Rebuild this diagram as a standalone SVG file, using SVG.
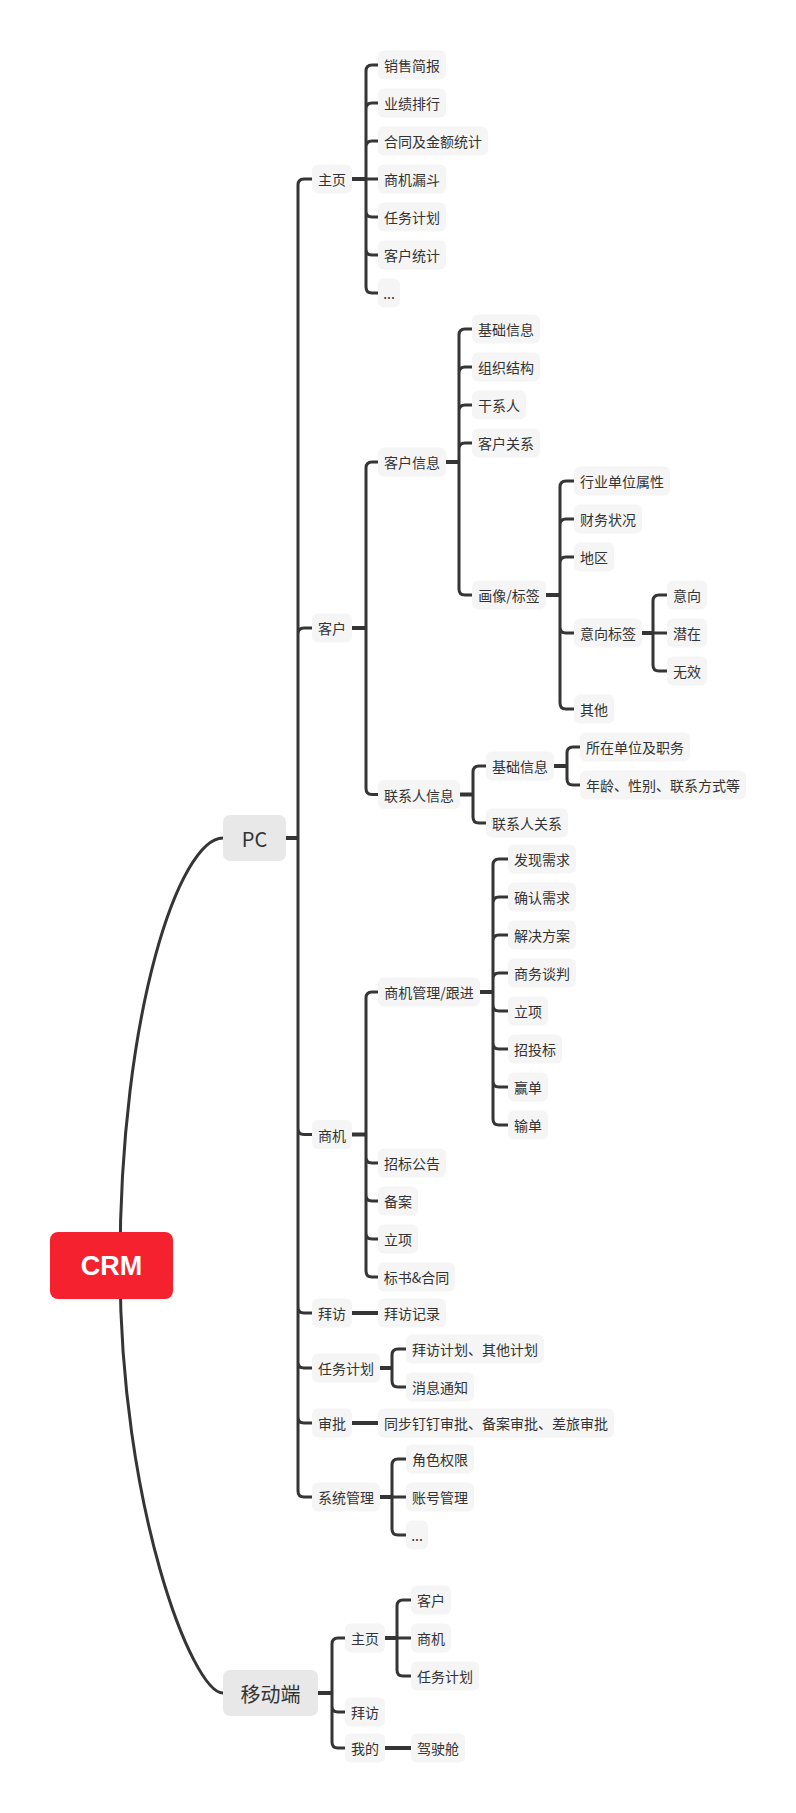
<svg xmlns="http://www.w3.org/2000/svg" width="796" height="1813" viewBox="0 0 796 1813">
<style>
.c{fill:none;stroke:#353535;stroke-width:3;stroke-linejoin:round}
.s{fill:none;stroke:#353535;stroke-width:4}
.n rect{fill:#f5f5f5}
.l1 rect{fill:#e8e8e8}
text{font-family:"Noto Sans CJK SC","Noto Sans",sans-serif;font-size:14px;fill:#333;text-anchor:middle;dominant-baseline:central}
.l1 text{font-size:20px}
#crm rect{fill:#f5212f}
#crm text{font-family:"Liberation Sans",Arial,sans-serif;font-weight:bold;font-size:27px;fill:#fff}
</style>
<rect width="796" height="1813" fill="#fff"/>
<g id="connectors">
<path class="c" d="M120 1265 C120 1010 180 838 223 838"/>
<path class="c" d="M120 1265 C120 1505 192 1693 223 1693"/>
<path class="s" d="M286 838 H298 M352 179 H366 M352 628 H366 M446 462 H459 M546 595 H560 M642 633 H653 M460 794.5 H473 M554 766 H567 M352 1134.5 H366 M480 992 H493 M352 1313 H378 M380 1368 H392 M352 1423 H378 M380 1497 H392 M318 1693 H332 M385 1638 H397 M385 1748 H411"/>
<path class="c" d="M298 838 V185 Q298 179 304 179 H312 M298 838 V634 Q298 628 304 628 H312 M298 838 V1128.5 Q298 1134.5 304 1134.5 H312 M298 838 V1307 Q298 1313 304 1313 H312 M298 838 V1362 Q298 1368 304 1368 H312 M298 838 V1417 Q298 1423 304 1423 H312 M298 838 V1491 Q298 1497 304 1497 H312"/>
<path class="c" d="M366 179 V71 Q366 65 372 65 H378 M366 179 V109 Q366 103 372 103 H378 M366 179 V147 Q366 141 372 141 H378 M366 179 H378 M366 179 V211 Q366 217 372 217 H378 M366 179 V249 Q366 255 372 255 H378 M366 179 V287 Q366 293 372 293 H378"/>
<path class="c" d="M366 628 V468 Q366 462 372 462 H378 M366 628 V788.5 Q366 794.5 372 794.5 H378"/>
<path class="c" d="M459 462 V335 Q459 329 465 329 H472 M459 462 V373 Q459 367 465 367 H472 M459 462 V411 Q459 405 465 405 H472 M459 462 V449 Q459 443 465 443 H472 M459 462 V589 Q459 595 465 595 H472"/>
<path class="c" d="M560 595 V487 Q560 481 566 481 H574 M560 595 V525 Q560 519 566 519 H574 M560 595 V563 Q560 557 566 557 H574 M560 595 V627 Q560 633 566 633 H574 M560 595 V703 Q560 709 566 709 H574"/>
<path class="c" d="M653 633 V601 Q653 595 659 595 H667 M653 633 H667 M653 633 V665 Q653 671 659 671 H667"/>
<path class="c" d="M473 794.5 V772 Q473 766 479 766 H486 M473 794.5 V817 Q473 823 479 823 H486"/>
<path class="c" d="M567 766 V753 Q567 747 573 747 H580 M567 766 V779 Q567 785 573 785 H580"/>
<path class="c" d="M366 1134.5 V998 Q366 992 372 992 H378 M366 1134.5 V1157 Q366 1163 372 1163 H378 M366 1134.5 V1195 Q366 1201 372 1201 H378 M366 1134.5 V1233 Q366 1239 372 1239 H378 M366 1134.5 V1271 Q366 1277 372 1277 H378"/>
<path class="c" d="M493 992 V865 Q493 859 499 859 H508 M493 992 V903 Q493 897 499 897 H508 M493 992 V941 Q493 935 499 935 H508 M493 992 V979 Q493 973 499 973 H508 M493 992 V1005 Q493 1011 499 1011 H508 M493 992 V1043 Q493 1049 499 1049 H508 M493 992 V1081 Q493 1087 499 1087 H508 M493 992 V1119 Q493 1125 499 1125 H508"/>
<path class="c" d="M392 1368 V1355 Q392 1349 398 1349 H406 M392 1368 V1381 Q392 1387 398 1387 H406"/>
<path class="c" d="M392 1497 V1465 Q392 1459 398 1459 H406 M392 1497 H406 M392 1497 V1529 Q392 1535 398 1535 H406"/>
<path class="c" d="M332 1693 V1644 Q332 1638 338 1638 H345 M332 1693 V1706 Q332 1712 338 1712 H345 M332 1693 V1742 Q332 1748 338 1748 H345"/>
<path class="c" d="M397 1638 V1606 Q397 1600 403 1600 H411 M397 1638 H411 M397 1638 V1670 Q397 1676 403 1676 H411"/>
</g>
<g id="crm"><rect x="50" y="1232" width="123" height="67" rx="8"/><text x="111.5" y="1266">CRM</text></g>
<g id="pc" class="l1"><rect x="223" y="815" width="63" height="46" rx="7"/><text x="254.5" y="838">PC</text></g>
<g id="mobile" class="l1"><rect x="223" y="1670" width="95" height="46" rx="7"/><text x="270.5" y="1693">移动端</text></g>
<g id="pc-home" class="n"><rect x="312" y="164.5" width="40" height="29" rx="6"/><text x="332" y="179">主页</text></g>
<g id="h1" class="n"><rect x="378" y="50.5" width="68" height="29" rx="6"/><text x="412" y="65">销售简报</text></g>
<g id="h2" class="n"><rect x="378" y="88.5" width="68" height="29" rx="6"/><text x="412" y="103">业绩排行</text></g>
<g id="h3" class="n"><rect x="378" y="126.5" width="110" height="29" rx="6"/><text x="433" y="141">合同及金额统计</text></g>
<g id="h4" class="n"><rect x="378" y="164.5" width="68" height="29" rx="6"/><text x="412" y="179">商机漏斗</text></g>
<g id="h5" class="n"><rect x="378" y="202.5" width="68" height="29" rx="6"/><text x="412" y="217">任务计划</text></g>
<g id="h6" class="n"><rect x="378" y="240.5" width="68" height="29" rx="6"/><text x="412" y="255">客户统计</text></g>
<g id="h7" class="n"><rect x="378" y="278.5" width="22" height="29" rx="6"/><text x="389" y="293">...</text></g>
<g id="pc-cust" class="n"><rect x="312" y="613.5" width="40" height="29" rx="6"/><text x="332" y="628">客户</text></g>
<g id="cust-info" class="n"><rect x="378" y="447.5" width="68" height="29" rx="6"/><text x="412" y="462">客户信息</text></g>
<g id="ci1" class="n"><rect x="472" y="314.5" width="68" height="29" rx="6"/><text x="506" y="329">基础信息</text></g>
<g id="ci2" class="n"><rect x="472" y="352.5" width="68" height="29" rx="6"/><text x="506" y="367">组织结构</text></g>
<g id="ci3" class="n"><rect x="472" y="390.5" width="54" height="29" rx="6"/><text x="499" y="405">干系人</text></g>
<g id="ci4" class="n"><rect x="472" y="428.5" width="68" height="29" rx="6"/><text x="506" y="443">客户关系</text></g>
<g id="ci5" class="n"><rect x="472" y="580.5" width="74" height="29" rx="6"/><text x="509" y="595">画像/标签</text></g>
<g id="tag1" class="n"><rect x="574" y="466.5" width="96" height="29" rx="6"/><text x="622" y="481">行业单位属性</text></g>
<g id="tag2" class="n"><rect x="574" y="504.5" width="68" height="29" rx="6"/><text x="608" y="519">财务状况</text></g>
<g id="tag3" class="n"><rect x="574" y="542.5" width="40" height="29" rx="6"/><text x="594" y="557">地区</text></g>
<g id="tag4" class="n"><rect x="574" y="618.5" width="68" height="29" rx="6"/><text x="608" y="633">意向标签</text></g>
<g id="tag5" class="n"><rect x="574" y="694.5" width="40" height="29" rx="6"/><text x="594" y="709">其他</text></g>
<g id="it1" class="n"><rect x="667" y="580.5" width="40" height="29" rx="6"/><text x="687" y="595">意向</text></g>
<g id="it2" class="n"><rect x="667" y="618.5" width="40" height="29" rx="6"/><text x="687" y="633">潜在</text></g>
<g id="it3" class="n"><rect x="667" y="656.5" width="40" height="29" rx="6"/><text x="687" y="671">无效</text></g>
<g id="contact" class="n"><rect x="378" y="780" width="82" height="29" rx="6"/><text x="419" y="794.5">联系人信息</text></g>
<g id="ct1" class="n"><rect x="486" y="751.5" width="68" height="29" rx="6"/><text x="520" y="766">基础信息</text></g>
<g id="ct2" class="n"><rect x="486" y="808.5" width="82" height="29" rx="6"/><text x="527" y="823">联系人关系</text></g>
<g id="ct11" class="n"><rect x="580" y="732.5" width="110" height="29" rx="6"/><text x="635" y="747">所在单位及职务</text></g>
<g id="ct12" class="n"><rect x="580" y="770.5" width="166" height="29" rx="6"/><text x="663" y="785">年龄、性别、联系方式等</text></g>
<g id="pc-opp" class="n"><rect x="312" y="1120" width="40" height="29" rx="6"/><text x="332" y="1134.5">商机</text></g>
<g id="opp-mgmt" class="n"><rect x="378" y="977.5" width="102" height="29" rx="6"/><text x="429" y="992">商机管理/跟进</text></g>
<g id="om1" class="n"><rect x="508" y="844.5" width="68" height="29" rx="6"/><text x="542" y="859">发现需求</text></g>
<g id="om2" class="n"><rect x="508" y="882.5" width="68" height="29" rx="6"/><text x="542" y="897">确认需求</text></g>
<g id="om3" class="n"><rect x="508" y="920.5" width="68" height="29" rx="6"/><text x="542" y="935">解决方案</text></g>
<g id="om4" class="n"><rect x="508" y="958.5" width="68" height="29" rx="6"/><text x="542" y="973">商务谈判</text></g>
<g id="om5" class="n"><rect x="508" y="996.5" width="40" height="29" rx="6"/><text x="528" y="1011">立项</text></g>
<g id="om6" class="n"><rect x="508" y="1034.5" width="54" height="29" rx="6"/><text x="535" y="1049">招投标</text></g>
<g id="om7" class="n"><rect x="508" y="1072.5" width="40" height="29" rx="6"/><text x="528" y="1087">赢单</text></g>
<g id="om8" class="n"><rect x="508" y="1110.5" width="40" height="29" rx="6"/><text x="528" y="1125">输单</text></g>
<g id="opp2" class="n"><rect x="378" y="1148.5" width="68" height="29" rx="6"/><text x="412" y="1163">招标公告</text></g>
<g id="opp3" class="n"><rect x="378" y="1186.5" width="40" height="29" rx="6"/><text x="398" y="1201">备案</text></g>
<g id="opp4" class="n"><rect x="378" y="1224.5" width="40" height="29" rx="6"/><text x="398" y="1239">立项</text></g>
<g id="opp5" class="n"><rect x="378" y="1262.5" width="77" height="29" rx="6"/><text x="416.5" y="1277">标书&amp;合同</text></g>
<g id="pc-visit" class="n"><rect x="312" y="1298.5" width="40" height="29" rx="6"/><text x="332" y="1313">拜访</text></g>
<g id="visit-rec" class="n"><rect x="378" y="1298.5" width="68" height="29" rx="6"/><text x="412" y="1313">拜访记录</text></g>
<g id="pc-task" class="n"><rect x="312" y="1353.5" width="68" height="29" rx="6"/><text x="346" y="1368">任务计划</text></g>
<g id="task1" class="n"><rect x="406" y="1334.5" width="138" height="29" rx="6"/><text x="475" y="1349">拜访计划、其他计划</text></g>
<g id="task2" class="n"><rect x="406" y="1372.5" width="68" height="29" rx="6"/><text x="440" y="1387">消息通知</text></g>
<g id="pc-approve" class="n"><rect x="312" y="1408.5" width="40" height="29" rx="6"/><text x="332" y="1423">审批</text></g>
<g id="approve1" class="n"><rect x="378" y="1408.5" width="236" height="29" rx="6"/><text x="496" y="1423">同步钉钉审批、备案审批、差旅审批</text></g>
<g id="pc-sys" class="n"><rect x="312" y="1482.5" width="68" height="29" rx="6"/><text x="346" y="1497">系统管理</text></g>
<g id="sys1" class="n"><rect x="406" y="1444.5" width="68" height="29" rx="6"/><text x="440" y="1459">角色权限</text></g>
<g id="sys2" class="n"><rect x="406" y="1482.5" width="68" height="29" rx="6"/><text x="440" y="1497">账号管理</text></g>
<g id="sys3" class="n"><rect x="406" y="1520.5" width="22" height="29" rx="6"/><text x="417" y="1535">...</text></g>
<g id="m-home" class="n"><rect x="345" y="1623.5" width="40" height="29" rx="6"/><text x="365" y="1638">主页</text></g>
<g id="mh1" class="n"><rect x="411" y="1585.5" width="40" height="29" rx="6"/><text x="431" y="1600">客户</text></g>
<g id="mh2" class="n"><rect x="411" y="1623.5" width="40" height="29" rx="6"/><text x="431" y="1638">商机</text></g>
<g id="mh3" class="n"><rect x="411" y="1661.5" width="68" height="29" rx="6"/><text x="445" y="1676">任务计划</text></g>
<g id="m-visit" class="n"><rect x="345" y="1697.5" width="40" height="29" rx="6"/><text x="365" y="1712">拜访</text></g>
<g id="m-mine" class="n"><rect x="345" y="1733.5" width="40" height="29" rx="6"/><text x="365" y="1748">我的</text></g>
<g id="m-cockpit" class="n"><rect x="411" y="1733.5" width="54" height="29" rx="6"/><text x="438" y="1748">驾驶舱</text></g>
</svg>
